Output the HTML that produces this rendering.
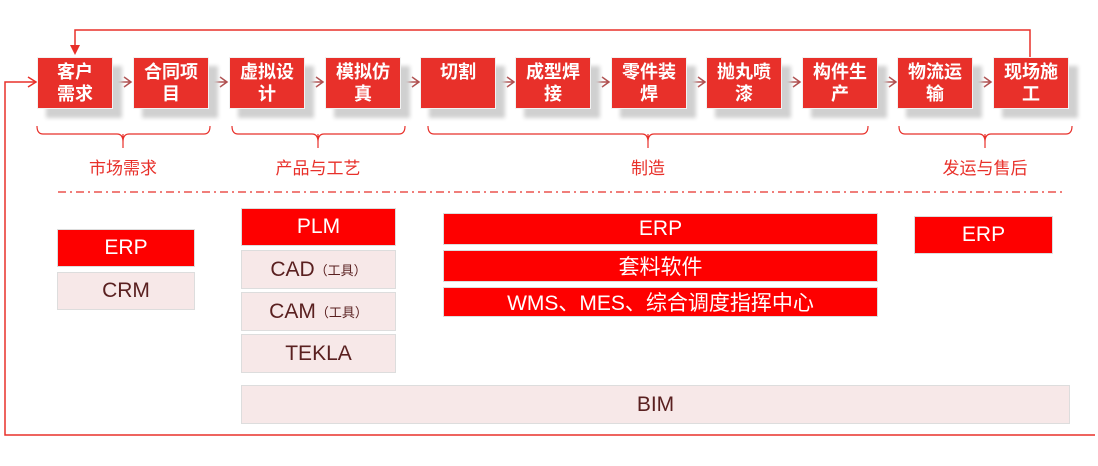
<!DOCTYPE html>
<html><head><meta charset="utf-8"><style>
body{margin:0;width:1098px;height:466px;background:#fff;position:relative;overflow:hidden;font-family:"Liberation Sans","Noto Sans CJK SC",sans-serif}
.b{position:absolute;top:57px;width:76px;height:52px;background:#e8302a;color:#fff;font-size:18px;font-weight:bold;line-height:22px;text-align:center;box-sizing:border-box;padding-top:3px;box-shadow:9px 9px 4px #d0d0d0;border:1px solid #f2f2f2}
.l{position:absolute;top:154px;color:#e8302a;font-size:17px;text-align:center}
.r{position:absolute;display:flex;align-items:center;justify-content:center;font-size:21px;box-sizing:border-box;border:1px solid #ddd}
.red{background:#fe0000;color:#fff}
.pk{background:#f7e8e8;color:#5a2020}
small{font-size:13px}
</style></head><body>
<svg width="1098" height="466" style="position:absolute;left:0;top:0">
<g fill="none" stroke="#e8302a" stroke-width="1.5">
<polyline points="1030,57 1030,30 75,30 75,52"/>
<polyline points="1095,435 5,435 5,82 36,82"/>
<polyline points="28,77 36,82 28,87"/>
</g>
<path d="M75,55 L70,45 L80,45Z" fill="#e8302a"/>
<g fill="none" stroke="#b05050" stroke-width="1.5">
<path d="M114,82H131M124,77l7,5-7,5"/><path d="M210,82H227M220,77l7,5-7,5"/><path d="M306,82H323M316,77l7,5-7,5"/><path d="M402,82H419M412,77l7,5-7,5"/><path d="M497,82H514M507,77l7,5-7,5"/><path d="M592,82H609M602,77l7,5-7,5"/><path d="M688,82H705M698,77l7,5-7,5"/><path d="M783,82H800M793,77l7,5-7,5"/><path d="M879,82H896M889,77l7,5-7,5"/><path d="M974,82H991M984,77l7,5-7,5"/>
</g>
<g fill="none" stroke="#e8302a" stroke-width="1.2">
<path d="M37,126q0,8 6,8H117q6,0 6,8q0,-8 6,-8H204q6,0 6,-8M123,134v14"/>
<path d="M232,126q0,8 6,8H312q6,0 6,8q0,-8 6,-8H399q6,0 6,-8M318,134v14"/>
<path d="M428,126q0,8 6,8H642q6,0 6,8q0,-8 6,-8H862q6,0 6,-8M648,134v14"/>
<path d="M899,126q0,8 6,8H979q6,0 6,8q0,-8 6,-8H1066q6,0 6,-8M985,134v14"/>
<line x1="58" y1="192" x2="1062" y2="192" stroke-dasharray="8,4,2,4"/>
</g>
</svg>
<div class="b" style="left:37px">客户<br>需求</div>
<div class="b" style="left:133px">合同项<br>目</div>
<div class="b" style="left:229px">虚拟设<br>计</div>
<div class="b" style="left:325px">模拟仿<br>真</div>
<div class="b" style="left:420px">切割</div>
<div class="b" style="left:515px">成型焊<br>接</div>
<div class="b" style="left:611px">零件装<br>焊</div>
<div class="b" style="left:706px">抛丸喷<br>漆</div>
<div class="b" style="left:802px">构件生<br>产</div>
<div class="b" style="left:897px">物流运<br>输</div>
<div class="b" style="left:993px">现场施<br>工</div>
<div class="l" style="left:73px;width:100px">市场需求</div>
<div class="l" style="left:268px;width:100px">产品与工艺</div>
<div class="l" style="left:598px;width:100px">制造</div>
<div class="l" style="left:935px;width:100px">发运与售后</div>
<div class="r red" style="left:57px;top:229px;width:138px;height:38px">ERP</div>
<div class="r pk" style="left:57px;top:272px;width:138px;height:38px">CRM</div>
<div class="r red" style="left:241px;top:208px;width:155px;height:38px">PLM</div>
<div class="r pk" style="left:241px;top:250px;width:155px;height:39px">CAD<small>（工具）</small></div>
<div class="r pk" style="left:241px;top:292px;width:155px;height:39px">CAM<small>（工具）</small></div>
<div class="r pk" style="left:241px;top:334px;width:155px;height:39px">TEKLA</div>
<div class="r red" style="left:443px;top:213px;width:435px;height:32px">ERP</div>
<div class="r red" style="left:443px;top:250px;width:435px;height:32px">套料软件</div>
<div class="r red" style="left:443px;top:287px;width:435px;height:30px">WMS、MES、综合调度指挥中心</div>
<div class="r red" style="left:914px;top:216px;width:139px;height:38px">ERP</div>
<div class="r pk" style="left:241px;top:385px;width:829px;height:39px">BIM</div>
</body></html>
